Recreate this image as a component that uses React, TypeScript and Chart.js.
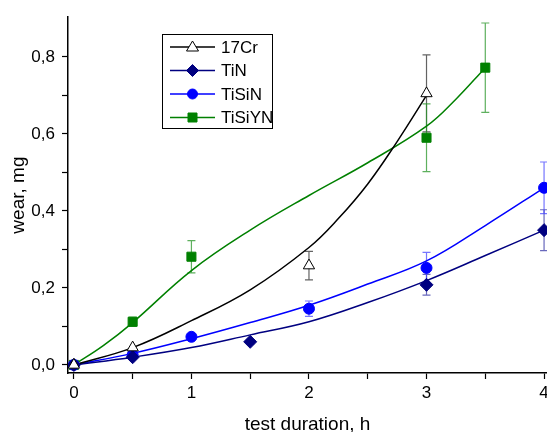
import React, { useEffect, useRef } from "react";
import { Chart, registerables } from "chart.js";

Chart.register(...registerables);

// Measured points
const cr17X = [0, 0.5, 2, 3];
const cr17Y = [0, 0.045, 0.258, 0.705];
const cr17Err = [0, 0, 0.037, 0.1];

const tinX = [0, 0.5, 1.5, 3, 4];
const tinY = [0, 0.02, 0.06, 0.208, 0.35];
const tinErr = [0, 0.004, 0.006, 0.027, 0.053];

const tisinX = [0, 0.5, 1, 2, 3, 4];
const tisinY = [0, 0.026, 0.073, 0.146, 0.252, 0.46];
const tisinErr = [0, 0.005, 0.007, 0.02, 0.04, 0.067];

const tisiynX = [0, 0.5, 1, 3, 3.5];
const tisiynY = [0, 0.112, 0.281, 0.59, 0.772];
const tisiynErr = [0, 0.012, 0.042, 0.088, 0.116];

// Fitted curves
const cr17FitX = [0, 0.5, 1, 1.5, 2, 2.25, 2.5, 2.75, 3];
const cr17FitY = [0, 0.045, 0.115, 0.195, 0.305, 0.38, 0.47, 0.58, 0.7];

const tinFitX = [0, 0.5, 1, 1.5, 2, 2.5, 3, 3.5, 4];
const tinFitY = [0, 0.02, 0.045, 0.078, 0.112, 0.162, 0.219, 0.284, 0.35];

const tisinFitX = [0, 0.5, 1, 1.5, 2, 2.5, 3, 3.5, 4];
const tisinFitY = [0, 0.03, 0.068, 0.11, 0.155, 0.21, 0.27, 0.362, 0.46];

const tisiynFitX = [0, 0.25, 0.5, 1, 1.5, 2, 2.5, 3, 3.25, 3.5];
const tisiynFitY = [0, 0.05, 0.11, 0.245, 0.35, 0.44, 0.525, 0.62, 0.69, 0.772];

const xTickValues = [0, 0.5, 1, 1.5, 2, 2.5, 3, 3.5, 4];
const yTickValues = [0, 0.1, 0.2, 0.3, 0.4, 0.5, 0.6, 0.7, 0.8];

const seriesNames = ["17Cr", "TiN", "TiSiN", "TiSiYN"];
const lineColors = ["#000000", "#000080", "#0000ff", "#008000"];
const markerFill = ["#ffffff", "#000080", "#0000ff", "#008000"];
const markerStroke = ["#000000", "#000080", "#0000ff", "#008000"];
const markerStyle = ["triangle", "rectRot", "circle", "rect"];
const errColors = ["rgba(60,60,60,0.8)", "rgba(40,40,160,0.7)", "rgba(60,60,255,0.7)", "rgba(40,150,40,0.75)"];

const FONT = "'Liberation Sans', Arial, sans-serif";

const pts = (xs: number[], ys: number[]) => xs.map((x, i) => ({ x, y: ys[i] }));

const errorBarPlugin = {
  id: "errorBars",
  beforeDatasetsDraw(chart: any) {
    const ctx = chart.ctx;
    const xs = chart.scales.x;
    const ys = chart.scales.y;
    const sets = [
      [cr17X, cr17Y, cr17Err],
      [tinX, tinY, tinErr],
      [tisinX, tisinY, tisinErr],
      [tisiynX, tisiynY, tisiynErr],
    ];
    ctx.save();
    sets.forEach((s, k) => {
      const [X, Y, E] = s as number[][];
      ctx.strokeStyle = errColors[k];
      ctx.lineWidth = 1.2;
      X.forEach((xv, i) => {
        if (!E[i]) return;
        const px = xs.getPixelForValue(xv);
        const top = ys.getPixelForValue(Y[i] + E[i]);
        const bot = ys.getPixelForValue(Y[i] - E[i]);
        ctx.beginPath();
        ctx.moveTo(px, top);
        ctx.lineTo(px, bot);
        ctx.moveTo(px - 4, top);
        ctx.lineTo(px + 4, top);
        ctx.moveTo(px - 4, bot);
        ctx.lineTo(px + 4, bot);
        ctx.stroke();
      });
    });
    ctx.restore();
  },
};

function drawMarker(ctx: CanvasRenderingContext2D, k: number, x: number, y: number) {
  ctx.beginPath();
  const st = markerStyle[k];
  if (st === "triangle") {
    ctx.moveTo(x, y - 6);
    ctx.lineTo(x + 6, y + 4);
    ctx.lineTo(x - 6, y + 4);
    ctx.closePath();
  } else if (st === "rectRot") {
    ctx.moveTo(x, y - 6);
    ctx.lineTo(x + 6, y);
    ctx.lineTo(x, y + 6);
    ctx.lineTo(x - 6, y);
    ctx.closePath();
  } else if (st === "circle") {
    ctx.arc(x, y, 5, 0, Math.PI * 2);
  } else {
    ctx.rect(x - 4.5, y - 4.5, 9, 9);
  }
  ctx.fillStyle = markerFill[k];
  ctx.fill();
  ctx.strokeStyle = markerStroke[k];
  ctx.lineWidth = 1;
  ctx.stroke();
}

const legendPlugin = {
  id: "customLegend",
  afterDraw(chart: any) {
    const ctx = chart.ctx;
    ctx.save();
    ctx.strokeStyle = "#000";
    ctx.lineWidth = 1;
    ctx.strokeRect(162.5, 34.5, 110, 94);
    const rows = [47, 70.5, 94, 117.5];
    seriesNames.forEach((name, k) => {
      const y = rows[k];
      ctx.strokeStyle = lineColors[k];
      ctx.lineWidth = 1.5;
      ctx.beginPath();
      ctx.moveTo(170, y);
      ctx.lineTo(215, y);
      ctx.stroke();
      drawMarker(ctx, k, 192.5, y);
      ctx.fillStyle = "#000";
      ctx.font = `17px ${FONT}`;
      ctx.textBaseline = "middle";
      ctx.textAlign = "left";
      ctx.fillText(name, 221, y + 1);
    });
    ctx.restore();
  },
};

export default function App() {
  const ref = useRef<HTMLCanvasElement | null>(null);
  useEffect(() => {
    document.body.style.margin = "0";
    document.body.style.overflow = "hidden";
    const canvas = ref.current!;
    const fitSets = [
      pts(cr17FitX, cr17FitY),
      pts(tinFitX, tinFitY),
      pts(tisinFitX, tisinFitY),
      pts(tisiynFitX, tisiynFitY),
    ];
    const pointSets = [
      pts(cr17X, cr17Y),
      pts(tinX, tinY),
      pts(tisinX, tisinY),
      pts(tisiynX, tisiynY),
    ];
    const datasets: any[] = [];
    fitSets.forEach((d, k) => {
      datasets.push({
        label: seriesNames[k] + " fit",
        data: d,
        showLine: true,
        borderColor: lineColors[k],
        borderWidth: 1.5,
        pointRadius: 0,
        tension: 0.4,
        fill: false,
        order: 2,
      });
    });
    pointSets.forEach((d, k) => {
      datasets.push({
        label: seriesNames[k],
        data: d,
        showLine: false,
        pointStyle: markerStyle[k],
        pointRadius: markerStyle[k] === "rect" ? 6.4 : markerStyle[k] === "circle" ? 5.5 : 6.5,
        pointBackgroundColor: markerFill[k],
        pointBorderColor: markerStroke[k],
        pointBorderWidth: 1,
        order: 1,
      });
    });

    const chart = new Chart(canvas, {
      type: "scatter",
      data: { datasets },
      plugins: [errorBarPlugin, legendPlugin],
      options: {
        animation: false,
        responsive: false,
        maintainAspectRatio: false,
        layout: { padding: { top: 15, right: 13, left: 0, bottom: 0 } },
        plugins: { legend: { display: false }, tooltip: { enabled: false } },
        scales: {
          x: {
            type: "linear",
            min: -0.05,
            max: 4.025,
            afterBuildTicks: (s: any) => {
              s.ticks = xTickValues.map((v) => ({ value: v }));
            },
            afterFit: (s: any) => {
              s.height = 67;
            },
            ticks: {
              autoSkip: false,
              maxRotation: 0,
              padding: 4,
              color: "#000",
              font: { family: FONT, size: 17 },
              callback: (v: any) => (Math.abs(v - Math.round(v)) < 1e-6 ? String(Math.round(v)) : ""),
            },
            grid: {
              display: true,
              drawOnChartArea: false,
              drawTicks: true,
              tickLength: 6,
              tickColor: "#000",
              tickWidth: 1.2,
            },
            border: { display: true, color: "#000", width: 1.5 },
            title: {
              display: true,
              text: "test duration, h",
              color: "#000",
              font: { family: FONT, size: 19 },
              padding: { top: 0, bottom: 4 },
            },
          },
          y: {
            type: "linear",
            min: -0.021,
            max: 0.903,
            afterBuildTicks: (s: any) => {
              s.ticks = yTickValues.map((v) => ({ value: v }));
            },
            afterFit: (s: any) => {
              s.width = 68;
            },
            ticks: {
              autoSkip: false,
              padding: 7,
              color: "#000",
              font: { family: FONT, size: 17 },
              callback: (v: any) => {
                const t = Math.round(v * 10);
                return t % 2 === 0 ? (t / 10).toFixed(1).replace(".", ",") : "";
              },
            },
            grid: {
              display: true,
              drawOnChartArea: false,
              drawTicks: true,
              tickLength: 6,
              tickColor: "#000",
              tickWidth: 1.2,
            },
            border: { display: true, color: "#000", width: 1.5 },
            title: {
              display: true,
              text: "wear, mg",
              color: "#000",
              font: { family: FONT, size: 19 },
              padding: { top: 7, bottom: 0 },
            },
          },
        },
      },
    } as any);
    return () => chart.destroy();
  }, []);
  return (
    <div style={{ position: "fixed", left: 0, top: 0, width: 560, height: 440 }}>
      <canvas ref={ref} width={560} height={440} style={{ width: 560, height: 440, display: "block" }} />
    </div>
  );
}
